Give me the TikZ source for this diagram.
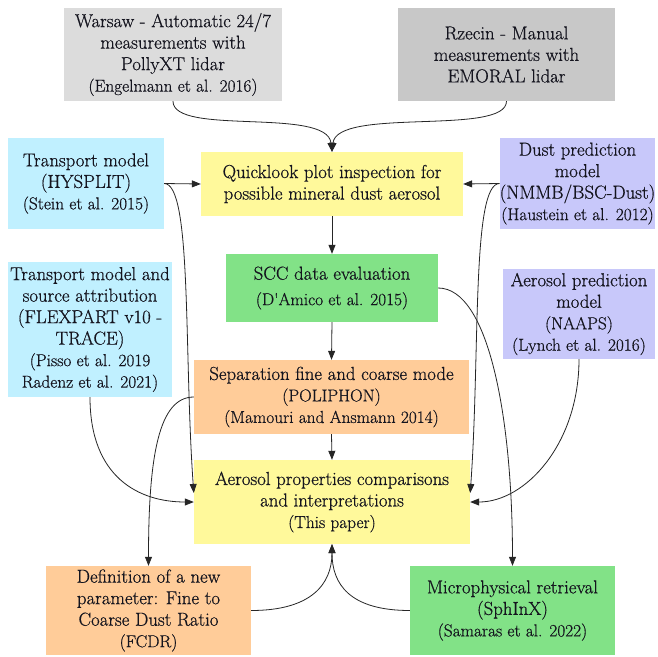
\documentclass[tikz,border=0pt]{standalone}
\usepackage{fontspec}
\newfontfamily\lmr{Latin Modern Roman}[FakeBold=0.6]
\usetikzlibrary{arrows.meta}
\definecolor{cwar}{RGB}{220,220,220}
\definecolor{crze}{RGB}{200,200,200}
\definecolor{cyel}{RGB}{255,249,155}
\definecolor{ccya}{RGB}{192,240,255}
\definecolor{clav}{RGB}{200,200,250}
\definecolor{cgrn}{RGB}{130,226,135}
\definecolor{cora}{RGB}{255,204,153}
\definecolor{ctxt}{RGB}{20,20,30}
\newcommand{\mn}{\lmr\fontsize{18.8}{21.5}\selectfont}
\newcommand{\ct}{\fontsize{17.3}{21.5}\selectfont}
\tikzset{
  box/.style={draw=none, inner sep=0pt, align=center, text=ctxt, font=\mn},
  arr/.style={draw=black!85, line width=0.8pt, -{Triangle[length=9pt,width=7pt]}}
}
\begin{document}
\begin{tikzpicture}[x=1pt,y=-1pt]
\fill[white] (0,0) rectangle (657,657);
\useasboundingbox (0,0) rectangle (657,657);

\node[box, fill=cwar, minimum width=218pt, minimum height=93pt] (war) at (173,54.5)
  {Warsaw - Automatic 24/7\\measurements with\\PollyXT lidar\\{\ct (Engelmann et al. 2016)}};
\node[box, fill=crze, minimum width=217pt, minimum height=93pt] (rze) at (506.5,54.5)
  {Rzecin - Manual\\measurements with\\EMORAL lidar};
\node[box, fill=cyel, minimum width=262pt, minimum height=64pt] (quick) at (332,184)
  {Quicklook plot inspection for\\possible mineral dust aerosol};
\node[box, fill=ccya, minimum width=156pt, minimum height=91pt] (hys) at (86,183.5)
  {Transport model\\(HYSPLIT)\\{\ct (Stein et al. 2015)}};
\node[box, fill=clav, minimum width=155pt, minimum height=91pt] (dust) at (577.5,183.5)
  {Dust prediction\\model\\(NMMB/BSC-Dust)\\{\ct (Haustein et al. 2012)}};
\node[box, fill=cgrn, minimum width=212pt, minimum height=68pt] (scc) at (332,288)
  {SCC data evaluation\\[4pt]{\ct (D'Amico et al. 2015)}};
\node[box, fill=ccya, minimum width=164pt, minimum height=135pt] (tr2) at (90,329.5)
  {Transport model and\\source attribution\\(FLEXPART v10 -\\TRACE)\\{\ct (Pisso et al. 2019}\\{\ct Radenz et al. 2021)}};
\node[box, fill=clav, minimum width=152pt, minimum height=90pt] (aerp) at (579,314)
  {Aerosol prediction\\model\\{\ct (NAAPS)}\\{\ct (Lynch et al. 2016)}};
\node[box, fill=cora, minimum width=275pt, minimum height=74pt] (sep) at (331.5,397)
  {Separation fine and coarse mode\\{\ct (POLIPHON)}\\{\ct (Mamouri and Ansmann 2014)}};
\node[box, fill=cyel, minimum width=276pt, minimum height=84pt] (aer) at (332,502)
  {Aerosol properties comparisons\\and interpretations\\{\ct (This paper)}};
\node[box, fill=cora, minimum width=205pt, minimum height=89pt] (defn) at (148.5,610.5)
  {Definition of a new\\parameter: Fine to\\Coarse Dust Ratio\\{\ct (FCDR)}};
\node[box, fill=cgrn, minimum width=205pt, minimum height=89pt] (micro) at (512.5,610.5)
  {Microphysical retrieval\\(SphInX)\\{\ct (Samaras et al. 2022)}};

% connectors
\draw[arr] (war.south) .. controls +(0,35) and +(-5,-45) .. (quick.north);
\draw[arr] (rze.south) .. controls +(0,35) and +(5,-45) .. (quick.north);
\draw[arr] (hys.east) -- (quick.west);
\draw[arr] (dust.west) -- (quick.east);
\draw[arr] (hys.east) .. controls +(28,0) and +(-10,-140) .. ([yshift=9pt]aer.west);
\draw[arr] (dust.west) .. controls +(-28,0) and +(10,-140) .. ([yshift=9pt]aer.east);
\draw[arr] (tr2.south) .. controls +(0,80) and +(-55,0) .. (aer.west);
\draw[arr] (aerp.south) .. controls +(0,85) and +(55,0) .. (aer.east);
\draw[arr] (quick.south) -- (scc.north);
\draw[arr] (scc.south) -- (sep.north);
\draw[arr] (sep.south) -- (aer.north);
\draw[arr] (scc.east) .. controls +(50,0) and +(0,-150) .. (micro.north);
\draw[arr] (sep.west) .. controls +(-35,0) and +(0,-110) .. (defn.north);
\draw[arr] (defn.east) .. controls +(60,0) and +(0,40) .. (aer.south);
\draw[arr] (micro.west) .. controls +(-60,0) and +(0,40) .. (aer.south);
\end{tikzpicture}
\end{document}
